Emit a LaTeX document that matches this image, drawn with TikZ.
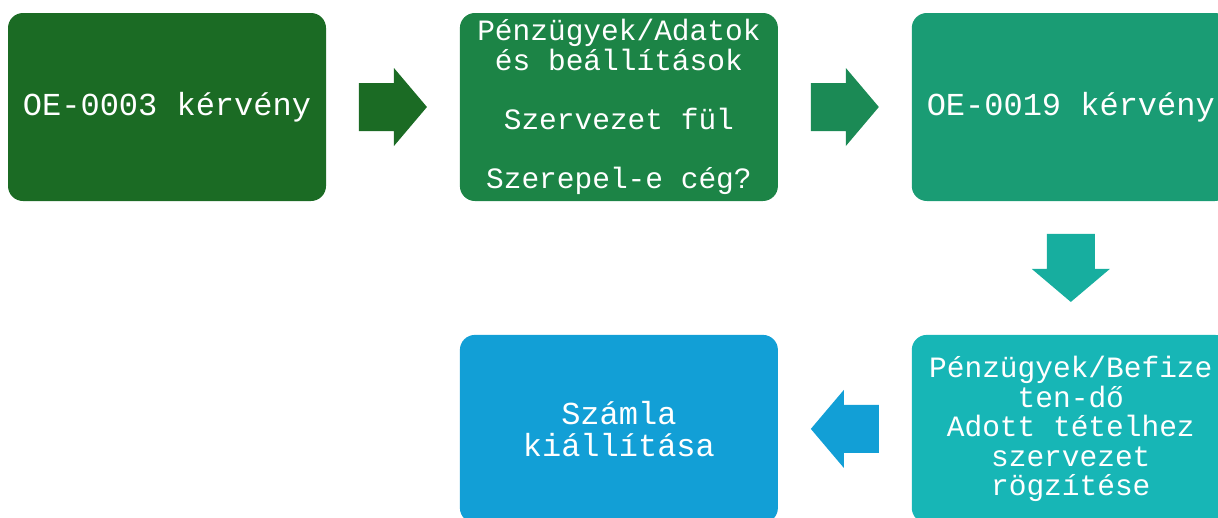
\documentclass[tikz,border=0pt]{standalone}
\usepackage{fontspec}
\setmonofont{Liberation Mono}
\usetikzlibrary{positioning,calc}

\definecolor{stepA}{HTML}{1B6B24}
\definecolor{stepB}{HTML}{1C8446}
\definecolor{arrowB}{HTML}{1B8A55}
\definecolor{stepC}{HTML}{1A9C74}
\definecolor{arrowC}{HTML}{17AE9F}
\definecolor{stepD}{HTML}{17B6B6}
\definecolor{stepE}{HTML}{129FD6}

\tikzset{
  stage/.style={rounded corners=15pt, minimum width=318pt, minimum height=188pt,
    inner sep=0pt, text=white, align=center,
    font=\ttfamily\fontsize{32}{32}\selectfont},
  smalltext/.style={font=\ttfamily\fontsize{29.5}{29.5}\selectfont},
  flowarrow/.pic={
    \fill (-34,-24) -- (1,-24) -- (1,-39) -- (34,0) -- (1,39) -- (1,24) -- (-34,24) -- cycle;
  }
}

\begin{document}
\begin{tikzpicture}[x=1pt, y=1pt, node distance=133.5pt]
    \useasboundingbox (0,0) rectangle (1218,-517);
    \clip (0,0) rectangle (1218,-517);
    % top row
    \node[stage, fill=stepA] (oe3) at (167,-107) {OE-0003 kérvény};
    \node[stage, smalltext, fill=stepB, right=of oe3] (adatok)
      {Pénzügyek/Adatok\\és beállítások\\[29.5pt]Szervezet fül\\[29.5pt]Szerepel-e cég?};
    \node[stage, fill=stepC, right=of adatok] (oe19) {OE-0019 kérvény};
    % bottom row
    \node[stage, smalltext, fill=stepD, below=of oe19] (befiz)
      {Pénzügyek/Befize\\ten-dő\\Adott tételhez\\szervezet\\rögzítése};
    \node[stage, fill=stepE, left=of befiz] (szamla) {Számla\\kiállítása};
    % block arrows
    \coordinate (a1) at ($(oe3.east)!0.5!(adatok.west)$);
    \coordinate (a2) at ($(adatok.east)!0.5!(oe19.west)$);
    \coordinate (a3) at ($(oe19.south)!0.5!(befiz.north)$);
    \coordinate (a4) at ($(befiz.west)!0.5!(szamla.east)$);
    \pic[fill=stepA] at (a1) {flowarrow};
    \pic[fill=arrowB] at (a2) {flowarrow};
    \pic[fill=arrowC, rotate=-90] at (a3) {flowarrow};
    \pic[fill=stepE, rotate=180] at (a4) {flowarrow};
\end{tikzpicture}
\end{document}
